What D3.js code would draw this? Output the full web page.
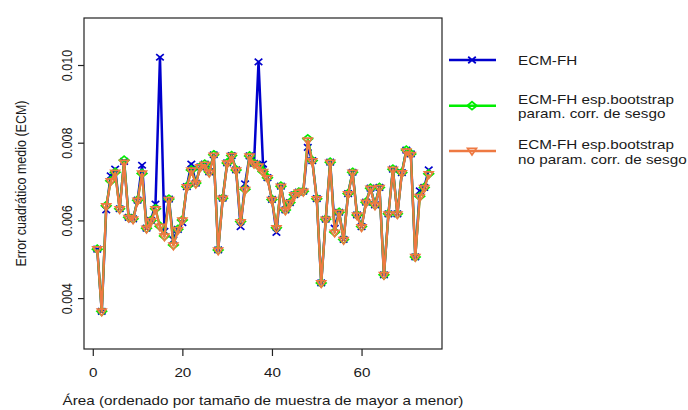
<!DOCTYPE html>
<html>
<head>
<meta charset="utf-8">
<script src="https://cdn.jsdelivr.net/npm/d3@7"></script>
<style>
  html, body { margin: 0; padding: 0; background: #fff; }
  svg { display: block; }
  text { font-family: "Liberation Sans", Arial, sans-serif; fill: #1a1a1a; }
</style>
</head>
<body>
<svg id="chart" width="688" height="410"></svg>
<script>
// Mean squared error per area (areas ordered by sample size, largest first)
const areas = d3.range(1, 76);

const ecmFH = [
  0.00526, 0.00366, 0.00627, 0.00715, 0.00732, 0.00630, 0.00752, 0.00608, 0.00604, 0.00652,
  0.00742, 0.00580, 0.00600, 0.00642, 0.01020, 0.00572, 0.00655, 0.00550, 0.00577, 0.00594,
  0.00687, 0.00745, 0.00696, 0.00738, 0.00745, 0.00725, 0.00769, 0.00524, 0.00657, 0.00748,
  0.00767, 0.00730, 0.00584, 0.00694, 0.00766, 0.00747, 0.01008, 0.00745, 0.00710, 0.00654,
  0.00569, 0.00688, 0.00627, 0.00646, 0.00666, 0.00673, 0.00675, 0.00788, 0.00754, 0.00656,
  0.00439, 0.00603, 0.00750, 0.00580, 0.00621, 0.00551, 0.00669, 0.00724, 0.00614, 0.00584,
  0.00647, 0.00683, 0.00640, 0.00685, 0.00460, 0.00617, 0.00732, 0.00617, 0.00723, 0.00781,
  0.00771, 0.00506, 0.00676, 0.00685, 0.00730
];

const ecmParam = [
  0.00526, 0.00366, 0.00638, 0.00702, 0.00724, 0.00630, 0.00755, 0.00608, 0.00604, 0.00652,
  0.00721, 0.00580, 0.00600, 0.00630, 0.00585, 0.00560, 0.00655, 0.00537, 0.00577, 0.00601,
  0.00687, 0.00730, 0.00696, 0.00738, 0.00745, 0.00725, 0.00769, 0.00524, 0.00657, 0.00748,
  0.00767, 0.00730, 0.00597, 0.00680, 0.00766, 0.00747, 0.00740, 0.00726, 0.00710, 0.00654,
  0.00581, 0.00688, 0.00627, 0.00646, 0.00666, 0.00673, 0.00675, 0.00810, 0.00754, 0.00656,
  0.00439, 0.00603, 0.00750, 0.00570, 0.00621, 0.00551, 0.00669, 0.00724, 0.00614, 0.00584,
  0.00647, 0.00683, 0.00640, 0.00685, 0.00460, 0.00617, 0.00732, 0.00617, 0.00723, 0.00781,
  0.00771, 0.00506, 0.00662, 0.00685, 0.00720
];

const ecmNoParam = [
  0.00525, 0.00365, 0.00636, 0.00700, 0.00722, 0.00628, 0.00748, 0.00606, 0.00602, 0.00650,
  0.00720, 0.00578, 0.00598, 0.00628, 0.00583, 0.00558, 0.00652, 0.00535, 0.00575, 0.00599,
  0.00685, 0.00728, 0.00694, 0.00736, 0.00743, 0.00722, 0.00766, 0.00522, 0.00655, 0.00746,
  0.00765, 0.00728, 0.00595, 0.00678, 0.00764, 0.00745, 0.00738, 0.00724, 0.00708, 0.00652,
  0.00579, 0.00686, 0.00625, 0.00644, 0.00664, 0.00671, 0.00673, 0.00805, 0.00752, 0.00654,
  0.00438, 0.00601, 0.00748, 0.00568, 0.00619, 0.00549, 0.00667, 0.00722, 0.00612, 0.00582,
  0.00645, 0.00681, 0.00638, 0.00683, 0.00459, 0.00615, 0.00730, 0.00615, 0.00721, 0.00777,
  0.00768, 0.00505, 0.00660, 0.00683, 0.00718
];

const xTicks = [0, 20, 40, 60];
const yTicks = [0.004, 0.006, 0.008, 0.010];

const seriesNames = [
  ["ECM-FH"],
  ["ECM-FH esp.bootstrap", "param. corr. de sesgo"],
  ["ECM-FH esp.bootstrap", "no param. corr. de sesgo"]
];

// ---- layout ----
const plot = { left: 84, right: 442, top: 18, bottom: 349 };
const SX = 1.22;            // horizontal widening of the lettering
const FONT = 12.5;

const svg = d3.select("#chart");

const x = d3.scaleLinear().domain([-1.96, 77.96]).range([plot.left, plot.right]);
const y = d3.scaleLinear().domain([0.00269, 0.01121]).range([plot.bottom, plot.top]);

// marker shapes
const shapes = {
  cross: "M-3.8,-3.2L3.8,3.2M-3.8,3.2L3.8,-3.2",
  diamond: "M0,-4L4.8,0L0,4L-4.8,0Z",
  triDown: "M-4.4,-2.6L4.4,-2.6L0,4Z"
};

const series = [
  { values: ecmFH, color: "#0000CD", shape: "cross", lw: 2.5 },
  { values: ecmParam, color: "#00EE00", shape: "diamond", lw: 2.3 },
  { values: ecmNoParam, color: "#EE7942", shape: "triDown", lw: 2.3 }
];

const line = d3.line().x((d, i) => x(areas[i])).y(d => y(d));

svg.append("defs").append("clipPath").attr("id", "plotclip")
  .append("rect")
  .attr("x", plot.left).attr("y", plot.top)
  .attr("width", plot.right - plot.left).attr("height", plot.bottom - plot.top);

const gData = svg.append("g").attr("clip-path", "url(#plotclip)");

series.forEach(s => {
  gData.append("path")
    .datum(s.values)
    .attr("d", line)
    .attr("fill", "none")
    .attr("stroke", s.color)
    .attr("stroke-width", s.lw)
    .attr("stroke-linejoin", "round");
  gData.selectAll(null)
    .data(s.values)
    .enter().append("path")
    .attr("transform", (d, i) => `translate(${x(areas[i])},${y(d)})`)
    .attr("d", shapes[s.shape])
    .attr("fill", "none")
    .attr("stroke", s.color)
    .attr("stroke-width", 1.7);
});

// ---- frame ----
svg.append("rect")
  .attr("x", plot.left).attr("y", plot.top)
  .attr("width", plot.right - plot.left).attr("height", plot.bottom - plot.top)
  .attr("fill", "none").attr("stroke", "#222").attr("stroke-width", 1.2);

// ---- x axis ----
const xAxis = d3.axisBottom(x).tickValues(xTicks).tickSize(7).tickSizeOuter(0);
const gx = svg.append("g").attr("transform", `translate(0,${plot.bottom})`).call(xAxis);
gx.select(".domain").remove();
gx.selectAll(".tick line").attr("stroke", "#222").attr("stroke-width", 1.2);
gx.selectAll(".tick text")
  .attr("y", 28.5).attr("dy", null)
  .attr("transform", `scale(${SX},1)`)
  .style("font-size", FONT + "px")
  .style("font-family", "Liberation Sans, Arial, sans-serif")
  .attr("fill", "#1a1a1a");

// ---- y axis ----
const yAxis = d3.axisLeft(y).tickValues(yTicks).tickSize(6).tickSizeOuter(0)
  .tickFormat(d3.format(".3f"));
const gy = svg.append("g").attr("transform", `translate(${plot.left},0)`).call(yAxis);
gy.select(".domain").remove();
gy.selectAll(".tick line").attr("stroke", "#222").attr("stroke-width", 1.2);
gy.selectAll(".tick text")
  .attr("x", null).attr("dy", null)
  .attr("text-anchor", "middle")
  .attr("transform", `translate(-12,0) scale(${SX},1) rotate(-90)`)
  .style("font-size", FONT + "px")
  .style("font-family", "Liberation Sans, Arial, sans-serif")
  .attr("fill", "#1a1a1a");

// ---- axis titles ----
const midX = (plot.left + plot.right) / 2;
svg.append("text")
  .attr("text-anchor", "middle")
  .attr("transform", `translate(${midX},405) scale(${SX},1)`)
  .style("font-size", FONT + "px")
  .text("Área (ordenado por tamaño de muestra de mayor a menor)");

svg.append("text")
  .attr("text-anchor", "middle")
  .attr("transform", `translate(26,${(plot.top + plot.bottom) / 2}) scale(${SX},1) rotate(-90)`)
  .style("font-size", FONT + "px")
  .text("Error cuadrático medio (ECM)");

// ---- legend ----
const legendRows = [60, 105.7, 151];
const legend = svg.append("g");
series.forEach((s, k) => {
  const ly = legendRows[k];
  legend.append("line")
    .attr("x1", 449).attr("x2", 496).attr("y1", ly).attr("y2", ly)
    .attr("stroke", s.color).attr("stroke-width", 2.6);
  legend.append("path")
    .attr("transform", `translate(472,${ly})`)
    .attr("d", shapes[s.shape])
    .attr("fill", "none").attr("stroke", s.color).attr("stroke-width", 1.8);
  const lines = seriesNames[k];
  const firstBase = lines.length === 1 ? ly + 4.8 : ly - 2;
  lines.forEach((t, j) => {
    legend.append("text")
      .attr("transform", `translate(518,${firstBase + j * 14.5}) scale(${SX},1)`)
      .style("font-size", FONT + "px")
      .text(t);
  });
});
</script>
</body>
</html>
